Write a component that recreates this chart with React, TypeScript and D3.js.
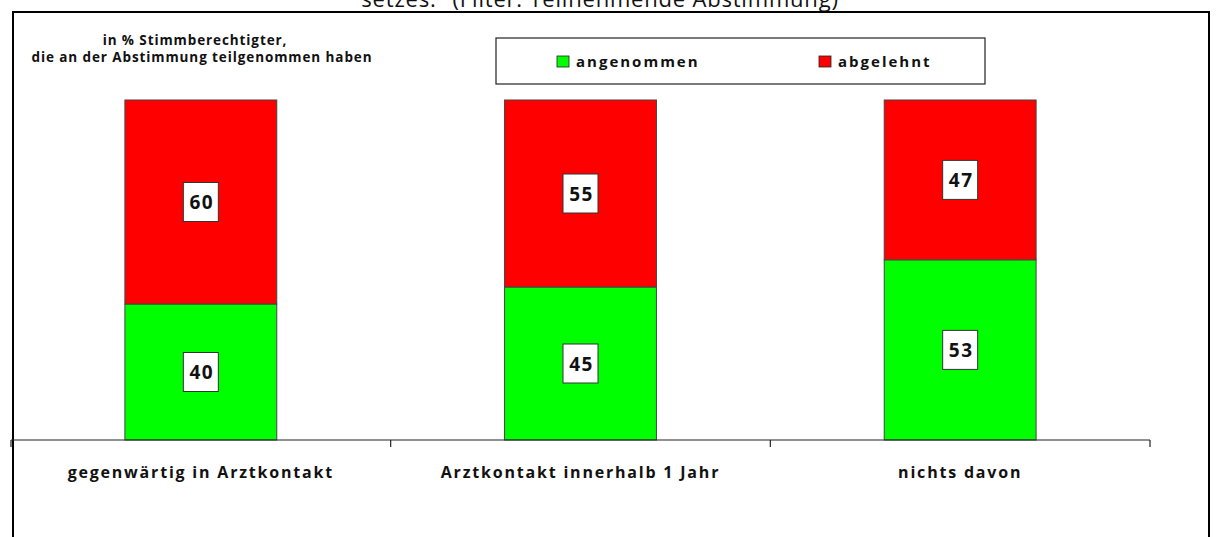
import React from "react";
import * as d3 from "d3";

// categories and shares (%)
const categories = [
  "gegenwärtig in Arztkontakt",
  "Arztkontakt innerhalb 1 Jahr",
  "nichts davon",
];
const angenommen = [40, 45, 53];
const abgelehnt = [60, 55, 47];
const seriesNames = ["angenommen", "abgelehnt"];
const seriesColors = ["#00ff00", "#ff0000"];

const title = "setzes.\" (Filter: Teilnehmende Abstimmung)";
const subtitle = ["in % Stimmberechtigter,", "die an der Abstimmung teilgenommen haben"];

const width = 1216;
const height = 537;
const font = "'Open Sans', Lato, sans-serif";

const App = () => {
  const x = d3.scaleBand().domain(categories).range([11, 1150]).padding(0);
  const y = d3.scaleLinear().domain([0, 100]).range([440, 100]);
  const barW = x.bandwidth() * 0.4;

  const rows = categories.map((c, i) => ({
    cat: c,
    angenommen: angenommen[i],
    abgelehnt: abgelehnt[i],
  }));
  const stacked = d3.stack<any>().keys(seriesNames)(rows);

  const tickXs = [...categories.map((c) => x(c) as number), x.range()[1]];

  return (
    <div style={{ position: "absolute", left: 0, top: 0 }}>
      <svg width={width} height={height} style={{ display: "block" }}>
        <rect width={width} height={height} fill="#fff" />
        {/* page title, cut off at the top like in the source */}
        <text x={600} y={7} textAnchor="middle" fontFamily={font} fontSize={22} letterSpacing={0.8} fill="#111">
          {title}
        </text>
        {/* chart frame */}
        <rect x={13} y={12} width={1196} height={560} fill="none" stroke="#000" strokeWidth={2} />

        {/* subtitle */}
        {subtitle.map((s, i) => (
          <text
            key={s}
            x={i === 0 ? 195 : 202}
            y={45 + i * 17}
            textAnchor="middle"
            fontFamily={font}
            fontWeight="bold"
            fontSize={13.5}
            letterSpacing={0.9}
            fill="#111"
          >
            {s}
          </text>
        ))}

        {/* legend */}
        <rect x={496} y={38} width={489} height={46} fill="#fff" stroke="#222" strokeWidth={1.2} />
        {seriesNames.map((n, i) => {
          const lx = i === 0 ? 557 : 819;
          return (
            <g key={n}>
              <rect x={lx} y={56} width={12} height={11} fill={seriesColors[i]} stroke="#222" strokeWidth={0.8} />
              <text
                x={lx + 19}
                y={67}
                fontFamily={font}
                fontWeight="bold"
                fontSize={15}
                letterSpacing={2}
                fill="#111"
              >
                {n}
              </text>
            </g>
          );
        })}

        {/* bars */}
        {stacked.map((layer, si) => (
          <g key={layer.key}>
            {layer.map((d, i) => {
              const cx = (x(categories[i]) as number) + x.bandwidth() / 2;
              const y0 = y(d[0]);
              const y1 = y(d[1]);
              return (
                <rect
                  key={i}
                  x={cx - barW / 2}
                  y={y1}
                  width={barW}
                  height={y0 - y1}
                  fill={seriesColors[si]}
                  stroke="#444"
                  strokeWidth={1}
                />
              );
            })}
          </g>
        ))}
        {/* value boxes */}
        {stacked.map((layer) =>
          layer.map((d, i) => {
            const cx = (x(categories[i]) as number) + x.bandwidth() / 2;
            const my = (y(d[0]) + y(d[1])) / 2;
            return (
              <g key={layer.key + i}>
                <rect x={cx - 17.5} y={my - 19.5} width={35} height={39} fill="#fff" stroke="#333" strokeWidth={1} />
                <text
                  x={cx + 1}
                  y={my + 7}
                  textAnchor="middle"
                  fontFamily={font}
                  fontWeight="bold"
                  fontSize={19}
                  letterSpacing={1.5}
                  fill="#111"
                >
                  {d[1] - d[0]}
                </text>
              </g>
            );
          })
        )}

        {/* category axis */}
        <line x1={x.range()[0]} x2={x.range()[1]} y1={y(0)} y2={y(0)} stroke="#222" strokeWidth={1.2} />
        {tickXs.map((t, i) => (
          <line key={i} x1={t} x2={t} y1={y(0)} y2={y(0) + 7} stroke="#222" strokeWidth={1.2} />
        ))}
        {categories.map((c) => (
          <text
            key={c}
            x={(x(c) as number) + x.bandwidth() / 2}
            y={478}
            textAnchor="middle"
            fontFamily={font}
            fontWeight="bold"
            fontSize={16}
            letterSpacing={1.8}
            fill="#111"
          >
            {c}
          </text>
        ))}
      </svg>
    </div>
  );
};

export default App;
